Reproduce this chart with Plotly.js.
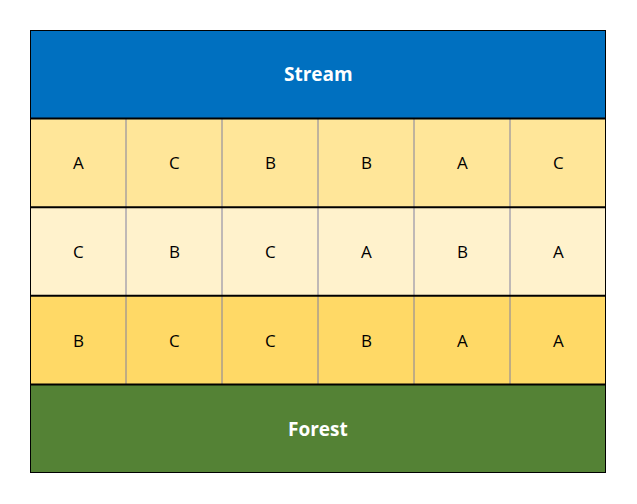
<!DOCTYPE html>
<html><head><meta charset="utf-8">
<script src="https://cdn.plot.ly/plotly-3.0.1.min.js"></script>
<style>body{margin:0}</style></head><body>
<div id="c" style="width:637px;height:504px"></div>
<script>
const columns = [0,1,2,3,4,5];
const topLabel = "Stream";
const bottomLabel = "Forest";
const row1 = ["A","C","B","B","A","C"];
const row2 = ["C","B","C","A","B","A"];
const row3 = ["B","C","C","B","A","A"];
const bandColors = ["#548235","#FFD966","#FFF2CC","#FFE699","#0070C0"]; // forest,row3,row2,row1,stream

const rowsTopDown = [row1,row2,row3];
const yVals = [-1,0,1,2,3];
const z = yVals.map((y,i)=>columns.map(()=>i));
const cs = [];
bandColors.forEach((c,i)=>{cs.push([i/5,c]);cs.push([(i+1)/5,c]);});

const ann = [];
rowsTopDown.forEach((r,ri)=>{
  const y = 2-ri;
  r.forEach((t,ci)=>ann.push({x:columns[ci],y:y,text:t,showarrow:false,font:{size:17,color:"#000",family:"Open Sans, Liberation Sans, sans-serif"}}));
});
ann.push({x:2.5,y:3,text:"<b>"+topLabel+"</b>",showarrow:false,font:{size:19,color:"#fff",family:"Open Sans, sans-serif"}});
ann.push({x:2.5,y:-1,text:"<b>"+bottomLabel+"</b>",showarrow:false,font:{size:19,color:"#fff",family:"Open Sans, sans-serif"}});

const shapes = [];
for(let k=1;k<columns.length;k++){
  shapes.push({type:"line",x0:k-0.5,x1:k-0.5,y0:-0.5,y1:2.5,line:{color:"#8080a0",width:1}});
}
[-0.5,0.5,1.5,2.5].forEach(y=>shapes.push({type:"line",x0:-0.5,x1:5.5,y0:y,y1:y,line:{color:"#000",width:2}}));
shapes.push({type:"rect",x0:-0.5,x1:5.5,y0:-1.5,y1:3.5,line:{color:"#000",width:2}});

Plotly.newPlot("c",[{type:"heatmap",x:columns,y:yVals,z:z,zmin:0,zmax:4,colorscale:cs,showscale:false,hoverinfo:"skip"}],{
  width:637,height:504,margin:{l:30,r:31,t:30,b:31},
  xaxis:{range:[-0.5,5.5],visible:false,fixedrange:true},
  yaxis:{range:[-1.5,3.5],visible:false,fixedrange:true},
  annotations:ann,shapes:shapes,paper_bgcolor:"#fff",plot_bgcolor:"#fff"
},{displayModeBar:false,staticPlot:true});
</script></body></html>
